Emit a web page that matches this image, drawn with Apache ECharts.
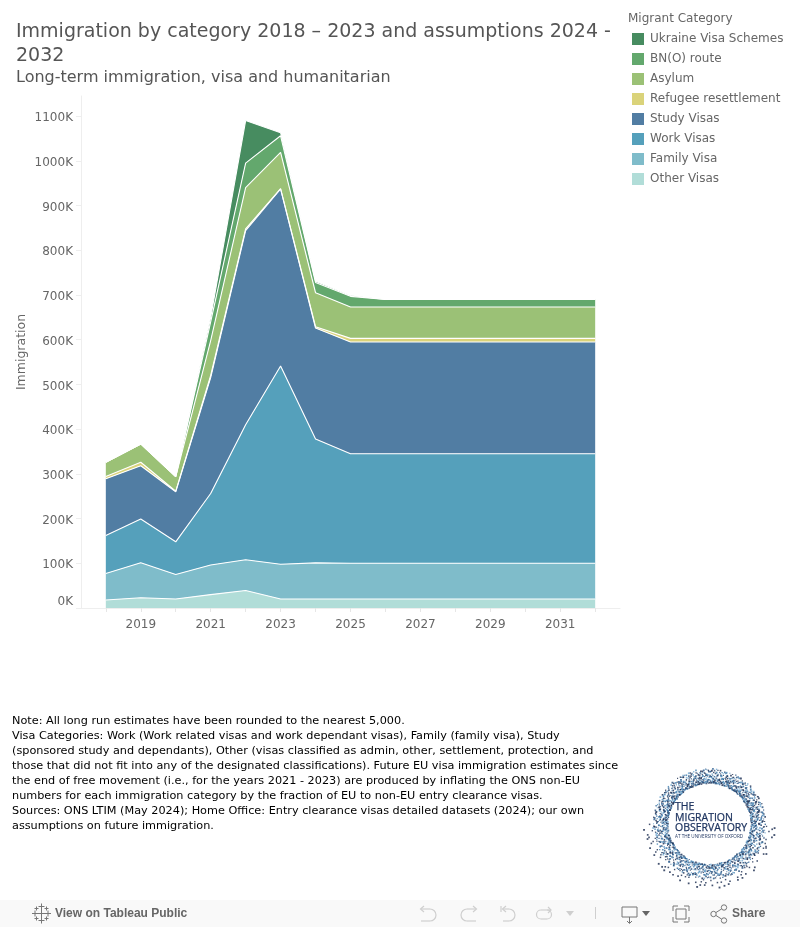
<!DOCTYPE html>
<html>
<head>
<meta charset="utf-8">
<style>html,body{margin:0;padding:0;background:#fff}#c{width:800px;height:927px}</style>
<script src="https://cdn.jsdelivr.net/npm/echarts@6/dist/echarts.min.js"></script>
</head>
<body>
<div id="c"></div>
<script>
// Values in thousands
const years = [2018,2019,2020,2021,2022,2023,2024,2025,2026,2027,2028,2029,2030,2031,2032];
const yearLabels = [2019,2021,2023,2025,2027,2029,2031];
const yTicks = [0,100,200,300,400,500,600,700,800,900,1000,1100];
const otherVisas = [18,23,20,30,39,20,20,20,20,20,20,20,20,20,20];
const familyVisa = [59,78,55,66,69,78,81,80,80,80,80,80,80,80,80];
const workVisas = [85,98,73,160,302,443,277,245,245,245,245,245,245,245,245];
const studyVisas = [127,119,112,259,434,396,248,250,250,250,250,250,250,250,250];
const refugee = [5,8,1,5,4,1,3,8,8,8,8,8,8,8,8];
const asylum = [32,41,33,78,92,81,76,70,70,70,70,70,70,70,70];
const bno = [0,0,0,42,55,37,23,24,17,17,17,17,17,17,17];
const ukraine = [0,0,0,10,95,7,3,2,0,0,0,0,0,0,0];

const stackOrder = [
  ['Other Visas', otherVisas, '#b1ddd8'],
  ['Family Visa', familyVisa, '#7fbcca'],
  ['Work Visas', workVisas, '#55a0bb'],
  ['Study Visas', studyVisas, '#517da3'],
  ['Refugee resettlement', refugee, '#dad37a'],
  ['Asylum', asylum, '#9bc176'],
  ['BN(O) route', bno, '#63a86d'],
  ['Ukraine Visa Schemes', ukraine, '#478c60']
];
const legendOrder = stackOrder.map(s => s[0]).reverse();

const titleLines = ['Immigration by category 2018 \u2013 2023 and assumptions 2024 -', '2032'];
const subtitle = 'Long-term immigration, visa and humanitarian';
const noteText = [
 'Note: All long run estimates have been rounded to the nearest 5,000.',
 'Visa Categories: Work (Work related visas and work dependant visas), Family (family visa), Study',
 '(sponsored study and dependants), Other (visas classified as admin, other, settlement, protection, and',
 'those that did not fit into any of the designated classifications). Future EU visa immigration estimates since',
 'the end of free movement (i.e., for the years 2021 - 2023) are produced by inflating the ONS non-EU',
 'numbers for each immigration category by the fraction of EU to non-EU entry clearance visas.',
 'Sources: ONS LTIM (May 2024); Home Office: Entry clearance visas detailed datasets (2024); our own',
 'assumptions on future immigration.'
];

const FONT = '"DejaVu Sans", sans-serif';
const g = [];
function text(x, y, t, size, fill, extra) {
  g.push({type:'text', silent:true, x, y, style:Object.assign({text:t, font:size+'px '+FONT, fill, textVerticalAlign:'middle'}, extra||{})});
}
titleLines.forEach((t,i)=>text(16, 32+i*24, t, 19, '#555555'));
text(16, 78, subtitle, 16, '#555555');
text(628, 19, 'Migrant Category', 12, '#666666');
noteText.forEach((t,i)=>text(12, 721.5+i*15, t, 11.25, '#000000'));

// Toolbar
g.push({type:'rect', silent:true, shape:{x:0,y:900,width:800,height:27}, style:{fill:'#f9f9f9'}, z:-1});
const tb = '600 12px "Liberation Sans", Arial, sans-serif';
g.push({type:'text', silent:true, x:55, y:913.5, style:{text:'View on Tableau Public', font:tb, fill:'#666666', textVerticalAlign:'middle'}});
g.push({type:'text', silent:true, x:732, y:913.5, style:{text:'Share', font:tb, fill:'#666666', textVerticalAlign:'middle'}});
function pl(points, stroke, lw) {
  g.push({type:'polyline', silent:true, shape:{points}, style:{stroke, lineWidth:lw||1, fill:'none'}});
}
function tri(points, fill) {
  g.push({type:'polygon', silent:true, shape:{points}, style:{fill}});
}
function arc(x, y, r, a0, a1, stroke, lw) {
  g.push({type:'arc', silent:true, shape:{cx:x, cy:y, r, startAngle:a0, endAngle:a1, clockwise:true}, style:{stroke, lineWidth:lw||1, fill:'none'}});
}
function circ(x, y, r, stroke) {
  g.push({type:'circle', silent:true, shape:{cx:x, cy:y, r}, style:{stroke, lineWidth:1, fill:'none'}});
}
// Tableau cross mark
[[41.5,913.5,5],[41.5,906.5,3],[41.5,920.5,3],[35,913.5,3],[48,913.5,3],[36.5,908.5,2],[46.5,908.5,2],[36.5,918.5,2],[46.5,918.5,2]]
  .forEach(c=>{pl([[c[0]-c[2],c[1]],[c[0]+c[2],c[1]]],'#777777');pl([[c[0],c[1]-c[2]],[c[0],c[1]+c[2]]],'#777777');});
const faint='#cfcfcf', P=Math.PI;
pl([[421,909],[430,909]],faint,1.2); arc(430,915,6,-P/2,P/2,faint,1.2); pl([[430,921],[421,921]],faint,1.2); pl([[424,906],[420.5,909],[424,912]],faint,1.2);
pl([[476,909],[467,909]],faint,1.2); arc(467,915,6,P/2,P*1.5,faint,1.2); pl([[467,921],[476,921]],faint,1.2); pl([[473,906],[476.5,909],[473,912]],faint,1.2);
pl([[501,906],[501,912]],faint,1.2); pl([[503,909],[509,909]],faint,1.2); arc(509,915,6,-P/2,P/2,faint,1.2); pl([[509,921],[503,921]],faint,1.2); pl([[506,906],[502.5,909],[506,912]],faint,1.2);
pl([[551,910],[541,910]],faint,1.2); arc(541,914.5,4.5,P/2,P*1.5,faint,1.2); pl([[541,919],[547,919]],faint,1.2); arc(547,914.5,4.5,-P/2,P/2,faint,1.2); pl([[548,907],[551,910],[548,913]],faint,1.2);
tri([[566,911],[574,911],[570,916]],faint);
pl([[595.5,907],[595.5,919]],faint);
pl([[622,907],[637,907],[637,917],[622,917],[622,907]],'#777777');
pl([[629.5,917],[629.5,923]],'#777777'); pl([[627,921],[629.5,923.5],[632,921]],'#777777');
tri([[642,911],[650,911],[646,916]],'#666666');
pl([[673,911],[673,906],[678,906]],'#777777'); pl([[684,906],[689,906],[689,911]],'#777777');
pl([[689,917],[689,922],[684,922]],'#777777'); pl([[678,922],[673,922],[673,917]],'#777777');
pl([[676,909],[686,909],[686,919],[676,919],[676,909]],'#777777');
pl([[716,912.5],[721.5,909]],'#777777'); pl([[716,915.5],[721.5,919]],'#777777');
circ(713.5,914,2.7,'#777777'); circ(724,907.5,2.7,'#777777'); circ(724,920.5,2.7,'#777777');

// Logo: ring of dots (deterministic low-discrepancy pattern) plus text
const cx=709.5, cy=824, dotCols=['#16284c','#2b5f92','#16284c','#6fa6cf','#1f4a78','#3f7fb0'];
function vdc(n,b){let v=0,f=1/b;while(n>0){v+=f*(n%b);n=Math.floor(n/b);f/=b;}return v;}
for(let i=1;i<=1500;i++){
  const a=vdc(i,2)*2*P, u=vdc(i,3);
  const r=i%14===0 ? 52+vdc(i,5)*14 : 41.5+Math.pow(u,1.4)*15;
  const s=1+vdc(i,5)*0.9;
  g.push({type:'rect', silent:true, shape:{x:cx+Math.cos(a)*r-s/2, y:cy+Math.sin(a)*r*0.98-s/2, width:s, height:s}, style:{fill:dotCols[Math.floor(vdc(i,7)*6)], opacity:0.8}});
}
const lf='"Open Sans", sans-serif';
[['THE',807,10.5],['MIGRATION',818,10.5],['OBSERVATORY',828.5,10.5],['AT THE UNIVERSITY OF OXFORD',836.5,4.6]].forEach(l=>{
  g.push({type:'text', silent:true, x:675, y:l[1], style:{text:l[0], font:`${l[2]}px ${lf}`, fill:'#1f3560', textVerticalAlign:'middle', stroke:l[2]>5?'#1f3560':'none', lineWidth:l[2]>5?0.25:0}});
});

const chart = echarts.init(document.getElementById('c'), null, {renderer:'canvas'});
chart.setOption({
  animation:false,
  backgroundColor:'#ffffff',
  grid:{left:81, right:180, top:96, height:512, containLabel:false},
  legend:{
    orient:'vertical', left:627, top:28, itemWidth:12, itemHeight:12, itemGap:8, icon:'rect',
    data:legendOrder, selectedMode:false,
    textStyle:{color:'#666666', fontSize:12, fontFamily:FONT, padding:[0,0,0,1]}
  },
  xAxis:{
    type:'value', min:2017.29, max:2032.71, splitLine:{show:false},
    axisLine:{lineStyle:{color:'#eeeeee'}},
    axisTick:{show:true, customValues:years, length:4, lineStyle:{color:'#e6e6e6'}},
    axisLabel:{customValues:yearLabels, color:'#666666', fontSize:12, fontFamily:FONT, margin:11, formatter:v=>String(v)}
  },
  yAxis:{
    type:'value', min:0, max:1145, splitLine:{show:false},
    name:'Immigration', nameLocation:'middle', nameGap:53, nameRotate:90, nameMoveOverlap:false,
    nameTextStyle:{color:'#666666', fontSize:12.5, fontFamily:FONT},
    axisLine:{show:true, lineStyle:{color:'#eeeeee'}},
    axisTick:{show:true, customValues:yTicks, length:5, lineStyle:{color:'#eeeeee'}},
    axisLabel:{customValues:yTicks, margin:8, verticalAlignMinLabel:'bottom',
      formatter:v=>`{t|${v}K}`,
      rich:{t:{color:'#666666', fontSize:12, fontFamily:FONT, padding:[4,0,0,0]}}}
  },
  series:stackOrder.map(s=>({
    name:s[0], type:'line', stack:'all', showSymbol:false, symbol:'none',
    // value first so that stacking applies to the y dimension of the value/value grid
    data:years.map((y,i)=>[s[1][i],y]),
    encode:{x:1,y:0},
    itemStyle:{color:s[2]},
    lineStyle:{color:'#ffffff', width:1.1},
    areaStyle:{color:s[2], opacity:1},
    silent:true
  })),
  graphic:{elements:g}
});
</script>
</body>
</html>
